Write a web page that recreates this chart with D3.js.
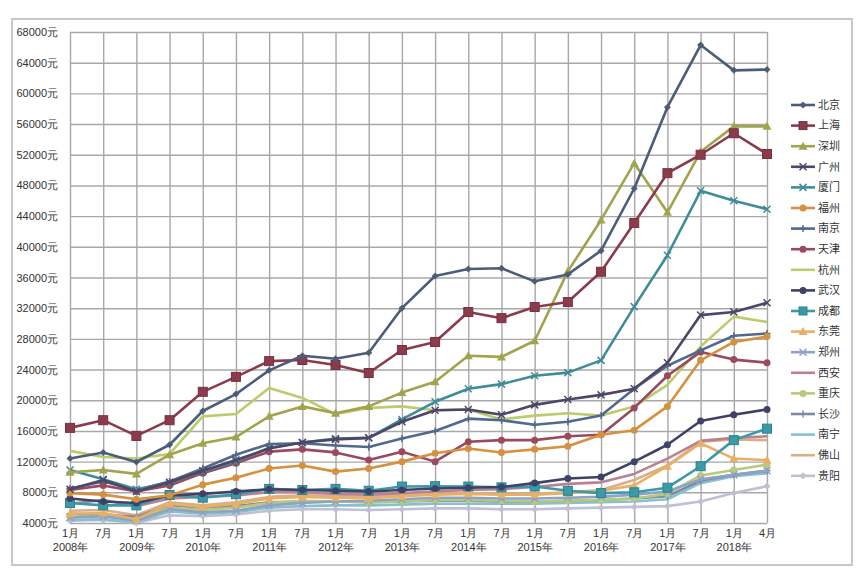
<!DOCTYPE html>
<html><head><meta charset="utf-8">
<script src="https://cdn.jsdelivr.net/npm/d3@7"></script>
<style>
body{margin:0;background:#fff;}
svg{display:block;font-family:"Noto Sans CJK SC","Noto Sans",sans-serif;}
</style></head>
<body><svg id="c" width="864" height="575"></svg>
<script>
const periods = ["2008-01","2008-07","2009-01","2009-07","2010-01","2010-07","2011-01","2011-07","2012-01","2012-07","2013-01","2013-07","2014-01","2014-07","2015-01","2015-07","2016-01","2016-07","2017-01","2017-07","2018-01","2018-04"];
const monthLabels = ["1月","7月","1月","7月","1月","7月","1月","7月","1月","7月","1月","7月","1月","7月","1月","7月","1月","7月","1月","7月","1月","4月"];
const yearLabels = ["2008年","","2009年","","2010年","","2011年","","2012年","","2013年","","2014年","","2015年","","2016年","","2017年","","2018年",""];
const yTicks = [4000,8000,12000,16000,20000,24000,28000,32000,36000,40000,44000,48000,52000,56000,60000,64000,68000];
const cities = ["北京","上海","深圳","广州","厦门","福州","南京","天津","杭州","武汉","成都","东莞","郑州","西安","重庆","长沙","南宁","佛山","贵阳"];

const beijing  = [12400,13200,11950,14200,18600,20800,23900,25800,25400,26200,32000,36200,37100,37200,35500,36400,39500,47600,58200,66300,63000,63100];
const shanghai = [16400,17400,15350,17400,21100,23050,25100,25250,24600,23550,26550,27600,31500,30700,32150,32800,36750,43100,49600,52000,54800,52100];
const shenzhen = [10600,10900,10400,12900,14400,15200,17900,19200,18300,19200,21000,22400,25800,25650,27750,36800,43500,50900,44500,52400,55700,55700];
const guangzhou= [8400,9600,8100,9300,10800,12200,13700,14500,14900,15100,17200,18700,18800,18100,19400,20100,20700,21500,24900,31100,31500,32700];
const xiamen   = [10900,9700,8400,9200,10700,12000,13800,14500,15000,15100,17500,19800,21500,22100,23200,23600,25200,32200,38900,47300,46000,44900];
const fuzhou   = [7900,7700,7100,7600,9000,9900,11100,11500,10700,11100,12000,13100,13700,13200,13600,14000,15500,16100,19200,25200,27600,28300];
const nanjing  = [8500,9400,8300,9400,11100,12900,14300,14400,14100,13900,15000,16000,17600,17400,16800,17200,18000,21500,24500,26500,28400,28700];
const tianjin  = [8300,8900,8100,8900,10500,11800,13300,13600,13200,12200,13300,12000,14600,14800,14800,15300,15500,19000,23200,26300,25300,24900];
const hangzhou = [13400,12600,12400,13000,17900,18200,21600,20300,18200,19000,19200,18700,18800,17500,18000,18300,18000,19200,22000,27000,30900,30200];
const wuhan    = [7200,6800,6600,7600,7800,8100,8400,8300,8200,8100,8300,8500,8600,8700,9200,9800,10000,12000,14200,17300,18100,18800];
const chengdu  = [6600,6300,6300,7650,7300,7750,8450,8300,8450,8200,8750,8800,8750,8650,8750,8200,7900,8000,8600,11400,14800,16300];
const dongguan = [5200,5300,4500,6500,6100,6500,7200,7400,7300,7200,7500,7700,7800,7700,7700,7900,8200,8900,11400,14400,12400,12200];
const zhengzhou= [4700,4900,4300,5800,5400,5600,6300,6600,6800,6900,7100,7300,7300,7200,7200,7300,7400,7700,8100,9700,10300,10800];
const xian     = [6500,7000,6200,7200,7400,7600,8000,8000,7800,7700,7900,8100,8300,8400,8700,9100,9300,10400,12400,14700,15100,15300];
const chongqing= [4800,5000,4400,6000,5700,6000,6600,6900,6800,6700,6800,7000,7000,6900,6800,6900,7000,7200,7800,10200,10900,11600];
const changsha = [5200,5100,4800,6300,6000,6200,6700,6800,6800,6700,6800,6900,6900,6800,6800,6900,7000,7200,7500,9500,10300,10800];
const nanning  = [4400,4500,4100,5500,5200,5400,6000,6200,6300,6300,6400,6500,6500,6500,6500,6600,6700,6800,7100,9200,10100,10500];
const foshan   = [5600,5700,5000,6700,6300,6700,7400,7600,7500,7400,7600,7800,7900,7800,7800,8000,8300,9600,11500,14600,14900,14800];
const guiyang  = [4300,4400,4000,5000,4900,5100,5600,5800,5800,5700,5800,5900,5900,5800,5800,5900,6000,6100,6200,6800,7900,8800];

const seriesValues = [beijing,shanghai,shenzhen,guangzhou,xiamen,fuzhou,nanjing,tianjin,hangzhou,wuhan,chengdu,dongguan,zhengzhou,xian,chongqing,changsha,nanning,foshan,guiyang];
const colors = ["#4b5d78","#8c3b4d","#a0a44c","#4f4566","#3f8c99","#d4913f","#52698f","#9a4a5c","#bccb6e","#3f4266","#3a9aa8","#e8b066","#8ea2c6","#b98191","#b9c97c","#7d8aa6","#86c2cc","#dcae85","#c1bfd6"];
const markers = ["diamond","square","triangle","cross","cross","circle","plus","circle","none","circle","square","triangle","cross","none","circle","plus","none","none","diamond"];

const svg = d3.select("#c");
const L = 70, R = 767, T = 32, B = 523;

svg.append("rect").attr("x",12).attr("y",19).attr("width",840).attr("height",546)
  .attr("fill","#fff").attr("stroke","#c8c8c8").attr("stroke-width",2);

const x = d3.scalePoint().domain(periods).range([L,R]).padding(0);
const y = d3.scaleLinear().domain([4000,68000]).range([B,T]);

// grid
const gy = svg.append("g").attr("transform",`translate(${L},0)`)
  .call(d3.axisLeft(y).tickValues(yTicks).tickSize(-(R-L)).tickFormat(d=>d+"元").tickPadding(12));
gy.select(".domain").remove();
gy.selectAll(".tick line").attr("stroke","#a8a8a8").attr("stroke-width",1.4);
gy.selectAll(".tick text").attr("fill","#333").attr("font-size",11);

const gx = svg.append("g").attr("transform",`translate(0,${B})`)
  .call(d3.axisBottom(x).tickSize(-(B-T)).tickFormat((d,i)=>monthLabels[i]).tickPadding(6));
gx.select(".domain").remove();
gx.selectAll(".tick line").attr("stroke","#a8a8a8").attr("stroke-width",1.4);
gx.selectAll(".tick text").attr("fill","#333").attr("font-size",11).each(function(d,i){
  const t = d3.select(this);
  if (yearLabels[i]) t.append("tspan").attr("x",0).attr("dy","1.3em").text(yearLabels[i]);
});

const line = d3.line().x((d,i)=>x(periods[i])).y(d=>y(d));

function drawMarker(g, type, cx, cy, color, s){
  if (type==="square") g.append("rect").attr("x",cx-s).attr("y",cy-s).attr("width",2*s).attr("height",2*s).attr("fill",color).attr("stroke",d3.color(color).darker(0.5));
  else if (type==="diamond") g.append("path").attr("d",`M${cx},${cy-s}L${cx+s},${cy}L${cx},${cy+s}L${cx-s},${cy}Z`).attr("fill",color);
  else if (type==="triangle") g.append("path").attr("d",`M${cx},${cy-s-1}L${cx+s+1},${cy+s}L${cx-s-1},${cy+s}Z`).attr("fill",color);
  else if (type==="circle") g.append("circle").attr("cx",cx).attr("cy",cy).attr("r",s).attr("fill",color);
  else if (type==="cross") g.append("path").attr("d",`M${cx-s},${cy-s}L${cx+s},${cy+s}M${cx-s},${cy+s}L${cx+s},${cy-s}`).attr("stroke",color).attr("stroke-width",1.5);
  else if (type==="plus") g.append("path").attr("d",`M${cx-s},${cy}L${cx+s},${cy}M${cx},${cy-s}L${cx},${cy+s}`).attr("stroke",color).attr("stroke-width",1.5);
}

const plot = svg.append("g");
for (let k = seriesValues.length-1; k >= 0; k--) {
  const vals = seriesValues[k];
  const g = plot.append("g");
  g.append("path").attr("d",line(vals)).attr("fill","none").attr("stroke",colors[k]).attr("stroke-width",2.6).attr("stroke-linejoin","round");
  const s = markers[k]==="square" ? 4.5 : 3.5;
  vals.forEach((v,i)=>drawMarker(g, markers[k], x(periods[i]), y(v), colors[k], s));
}

// legend
const lg = svg.append("g");
cities.forEach((c,k)=>{
  const yy = 105 + k*20.6;
  lg.append("line").attr("x1",791).attr("x2",815).attr("y1",yy).attr("y2",yy).attr("stroke",colors[k]).attr("stroke-width",2.6);
  drawMarker(lg, markers[k], 803, yy, colors[k], markers[k]==="square"?4:3.5);
  lg.append("text").attr("x",818).attr("y",yy).attr("dy","0.35em").attr("font-size",11).attr("fill","#333").text(c);
});
</script></body></html>
